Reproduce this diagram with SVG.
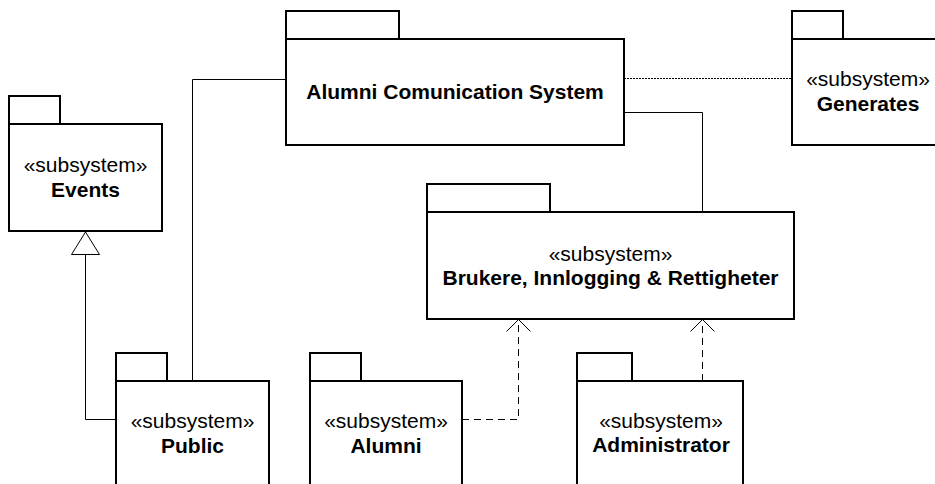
<svg xmlns="http://www.w3.org/2000/svg" width="935" height="484" viewBox="0 0 935 484">
  <style>
    .pkg { fill: #ffffff; stroke: #000000; stroke-width: 2; }
    .line { fill: none; stroke: #000000; stroke-width: 1; }
    .dash { stroke-dasharray: 7 5; }
    .dot { stroke-dasharray: 2 1; }
    .head { fill: #ffffff; stroke: #000000; stroke-width: 1; }
    text { font-family: "Liberation Sans", Arial, sans-serif; font-size: 21px; fill: #000000; text-anchor: middle; }
    .name { font-weight: bold; }
  </style>
  <rect width="935" height="484" fill="#ffffff"/>

  <!-- connectors -->
  <g id="connectors">
    <!-- Public to Alumni Comunication System -->
    <polyline class="line" points="192.5,381 192.5,79.5 286,79.5"/>
    <!-- Public generalizes Events -->
    <polyline class="line" points="116,419.5 85.5,419.5 85.5,254.5"/>
    <polygon class="head" points="85.5,232 71.5,254.5 99.5,254.5"/>
    <!-- Alumni Comunication System to Brukere -->
    <polyline class="line" points="624,112.5 702.5,112.5 702.5,212"/>
    <!-- Alumni Comunication System to Generates -->
    <line class="line dot" x1="624" y1="78.5" x2="792" y2="78.5"/>
    <!-- Alumni depends on Brukere -->
    <polyline class="line dash" points="462,419.5 518.5,419.5 518.5,321"/>
    <polyline class="line" points="506.5,331.5 518.5,319.5 530.5,331.5"/>
    <!-- Administrator depends on Brukere -->
    <line class="line dash" x1="702.5" y1="381" x2="702.5" y2="321"/>
    <polyline class="line" points="690.5,331.5 702.5,319.5 714.5,331.5"/>
  </g>

  <g id="acs">
    <rect class="pkg" x="286" y="11" width="113" height="28"/>
    <rect class="pkg" x="286" y="39" width="338" height="106"/>
    <text class="name" x="455" y="99">Alumni Comunication System</text>
  </g>

  <g id="generates">
    <rect class="pkg" x="792" y="11" width="51" height="28"/>
    <rect class="pkg" x="792" y="39" width="152" height="106"/>
    <text x="868" y="86">«subsystem»</text>
    <text class="name" x="868" y="111">Generates</text>
  </g>

  <g id="events">
    <rect class="pkg" x="9" y="96" width="51" height="28"/>
    <rect class="pkg" x="9" y="124" width="153" height="107"/>
    <text x="85.5" y="171.5">«subsystem»</text>
    <text class="name" x="85.5" y="196.5">Events</text>
  </g>

  <g id="brukere">
    <rect class="pkg" x="427" y="184" width="123" height="28"/>
    <rect class="pkg" x="427" y="212" width="367" height="107"/>
    <text x="610.5" y="260.5">«subsystem»</text>
    <text class="name" x="610.5" y="284.5">Brukere, Innlogging &amp; Rettigheter</text>
  </g>

  <g id="public">
    <rect class="pkg" x="116" y="353" width="51" height="28"/>
    <rect class="pkg" x="116" y="381" width="153" height="120"/>
    <text x="192.5" y="427.5">«subsystem»</text>
    <text class="name" x="192.5" y="452.5">Public</text>
  </g>

  <g id="alumni">
    <rect class="pkg" x="310" y="353" width="51" height="28"/>
    <rect class="pkg" x="310" y="381" width="152" height="120"/>
    <text x="386" y="427.5">«subsystem»</text>
    <text class="name" x="386" y="452.5">Alumni</text>
  </g>

  <g id="administrator">
    <rect class="pkg" x="577" y="353" width="55" height="28"/>
    <rect class="pkg" x="577" y="381" width="166" height="120"/>
    <text x="661" y="427.5">«subsystem»</text>
    <text class="name" x="661" y="451.5">Administrator</text>
  </g>
</svg>
